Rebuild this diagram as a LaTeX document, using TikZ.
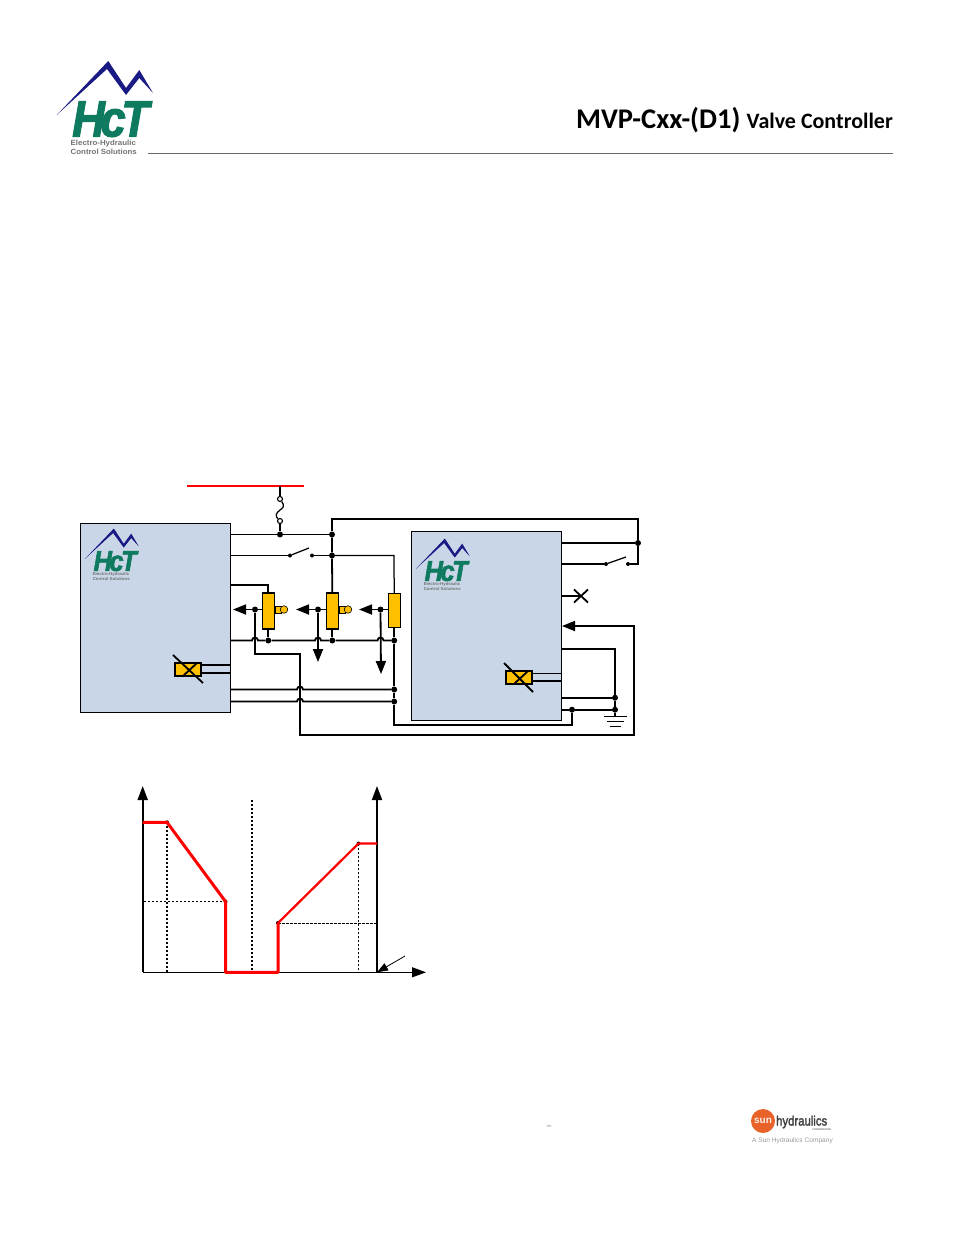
\documentclass[tikz,border=0pt]{standalone}
\usepackage{fontspec}
\setmainfont{Carlito}
\newfontfamily\logofont{Liberation Sans}
\newfontfamily\logoheavy[FakeBold=2.2]{Liberation Sans}
\usetikzlibrary{arrows.meta}
\definecolor{boxblue}{HTML}{C8D6E7}
\definecolor{valveyellow}{HTML}{FFC000}
\definecolor{hctgreen}{HTML}{0E7A5F}
\definecolor{hctblue}{HTML}{1A1A85}
\definecolor{sunorange}{HTML}{E8622A}
\tikzset{
  wire/.style={line width=1.8pt,black},
  thinwire/.style={line width=1.25pt,black},
  ctrl/.style={draw=black,line width=1pt,fill=boxblue,minimum width=150pt,minimum height=189pt,inner sep=0pt,anchor=north west},
  valve/.style={draw=black,line width=1.1pt,fill=valveyellow,minimum width=12pt,minimum height=36pt,inner sep=0pt},
  coil/.style={draw=black,line width=1.8pt,fill=valveyellow,minimum width=26pt,minimum height=13pt,inner sep=0pt},
  knob/.style={draw=black,line width=.6pt,fill=valveyellow,circle,minimum size=7.5pt,inner sep=0pt},
  stem/.style={draw=black,line width=.6pt,fill=valveyellow,minimum width=6pt,minimum height=7pt,inner sep=0pt},
  junction/.style={circle,fill=black,minimum size=6pt,inner sep=0pt},
  contact/.style={circle,fill=black,minimum size=4pt,inner sep=0pt},
  head/.style={-{Triangle[length=13pt,width=10pt]}},
  bighead/.style={-{Triangle[length=14pt,width=10pt]}},
  redline/.style={red,line width=3pt,line join=round},
  redthin/.style={red,line width=2.2pt,line join=round},
  dots/.style={black,line width=1.3pt,dash pattern=on 2pt off 2pt},
  finedash/.style={black,line width=.8pt,dash pattern=on 2.5pt off 1.5pt},
  hct/.pic={
    \fill[hctblue] (1.7,55) -- (53.3,1) -- (71,28) -- (84.3,10) -- (98,33) -- (84.3,18) -- (71,35) -- (52,9) -- cycle;
    \node[transform shape,xscale=.89,anchor=base west,inner sep=0pt,text=hctgreen] (-logo) at (17,76.5) {\logoheavy\fontsize{51}{51}\selectfont\bfseries\itshape H\kern-5ptc\kern-5ptT};
    \node[transform shape,xscale=1.05,anchor=west,inner sep=0pt,align=left,text=black!55,font=\logofont\fontsize{7.5}{9}\selectfont\bfseries] (-l1) at (15.5,87.3) {Electro-Hydraulic\\Control Solutions};
  }
}
\begin{document}
\begin{tikzpicture}[x=1pt,y=-1pt]
\useasboundingbox (0,0) rectangle (954,1235);
% header
\pic (mainlogo) at (55,60) {hct};
\node[anchor=base east,inner sep=0pt] (title) at (893,128) {\bfseries{\fontsize{28.5}{28}\selectfont MVP-Cxx-(D1)}\kern4pt{} {\fontsize{22}{22}\selectfont Valve Controller}};
\coordinate (hl) at (148,153.5); \coordinate (hr) at (893,153.5);
\draw[black!60,line width=.7pt] (hl) -- (hr);

% controllers
\node[ctrl] (boxL) at (80.3,523.3) {};
\node[ctrl] (boxR) at (411.3,531.3) {};
\pic[scale=.56] (logoL) at (84,528) {hct};
\pic[scale=.56] (logoR) at (415,538) {hct};

% supply bar and fuse
\coordinate (barL) at (187,486); \coordinate (barR) at (304,486); \coordinate (barT) at (280,486);
\draw[red,line width=2.6pt] (barL) -- (barR);
\node[junction] (jF) at (280,534.5) {};
\node[junction] (jA) at (332,534.5) {};
\node[junction] (jB) at (332,555.5) {};
\node[draw=black,circle,line width=1.1pt,minimum size=5pt,inner sep=0pt,fill=white] (f1) at (280,499) {};
\node[draw=black,circle,line width=1.1pt,minimum size=5pt,inner sep=0pt,fill=white] (f2) at (280,521) {};
\draw[thinwire] (barT) -- (f1);
\draw[thinwire] (f1) .. controls (285,506) and (283,508) .. (280,510) .. controls (276,513) and (275,516) .. (f2);
\draw[wire] (f2) -- (jF);
\draw[thinwire] (jF -| boxL.east) -- (jF) -- (jA);

% valves
\node[valve] (v1) at (268.3,611) {};
\node[valve] (v2) at (332.3,611) {};
\node[valve,minimum height=34pt] (v3) at (394.2,610.3) {};
\node[stem] (s1) at (278,609.5) {};
\node[stem] (s2) at (342,609.5) {};
\node[knob] (k1) at (284,609.5) {};
\node[knob] (k2) at (348,609.5) {};

% left switch
\coordinate (swLa) at (230.3,555.5);
\node[contact] (c1) at (290,555.5) {};
\node[contact] (c2) at (312,555.5) {};
\coordinate (c1t) at (309,548);
\draw[wire] (swLa) -- (c1);
\draw[thinwire] (c1) -- (c1t);
\draw[wire] (c2) -- (jB);
\draw[thinwire] (jB) -- (394,555.5) -- (v3.north);
\draw[wire] (jA) -- (jB) -- (v2.north);

% top feed to right controller
\node[junction] (jTR) at (638,543) {};
\draw[wire] (jA) -- (332,519) -- (638,519) -- (jTR);
\draw[wire] (jTR) -- (jTR -| boxR.east);
\node[contact] (c3) at (606,564) {};
\node[contact] (c4) at (628,564) {};
\coordinate (c3t) at (626,557);
\draw[wire] (c3 -| boxR.east) -- (c3);
\draw[thinwire] (c3) -- (c3t);
\draw[wire] (c4) -- (638,564) -- (jTR);

% valve 1 supply, common return
\draw[wire] (230.3,585) -- (268.3,585) -- (v1.north);
\node[junction] (jV1) at (268.3,640.5) {};
\node[junction] (jV2) at (332.3,640.5) {};
\node[junction] (jV3) at (394.2,640.5) {};
\draw[wire] (v1.south) -- (jV1);
\draw[wire] (v2.south) -- (jV2);
\draw[wire] (230.3,640.5) -- (252,640.5) arc[start angle=180,end angle=360,radius=3] -- (jV1) -- (315,640.5) arc[start angle=180,end angle=360,radius=3] -- (jV2) -- (377.5,640.5) arc[start angle=180,end angle=360,radius=3] -- (jV3);

% wiper arrows
\node[junction] (w1) at (255,609.5) {};
\node[junction] (w2) at (318,609.5) {};
\node[junction] (w3) at (380.5,609.5) {};
\coordinate (t1) at (233,609.5);
\coordinate (t2) at (296,609.5);
\coordinate (t3) at (359,609.5);
\coordinate (d2) at (318,662);
\coordinate (d3) at (381,674);
\draw[wire,head] (v1.west |- w1) -- (t1);
\draw[wire,head] (v2.west |- w2) -- (t2);
\draw[wire,head] (v3.west |- w3) -- (t3);
\draw[wire,head] (w2) -- (d2);
\draw[wire,head] (w3) -- (d3);

% signal wires
\node[junction] (jS1) at (394.2,689.5) {};
\node[junction] (jS2) at (394.2,701.5) {};
\draw[wire] (230.3,689.5) -- (297,689.5) arc[start angle=180,end angle=360,radius=3] -- (jS1);
\draw[wire] (230.3,701.5) -- (297,701.5) arc[start angle=180,end angle=360,radius=3] -- (jS2);

% long feedback to right controller
\coordinate (fbT) at (562,626);
\draw[wire,head] (w1) -- (255,654) -- (300,654) -- (300,735) -- (634,735) -- (634,626) -- (fbT);

% return bus
\node[junction] (jG3) at (572,709.7) {};
\draw[wire] (v3.south) -- (jV3) -- (jS1) -- (jS2) -- (394.2,725) -- (572,725) -- (jG3);

% right controller ground
\node[junction] (jG1) at (615,697.7) {};
\node[junction] (jG2) at (615,709.7) {};
\coordinate (gnd) at (615,716.5);
\draw[wire] (561.3,649) -- (615,649) -- (jG1) -- (jG2) -- (gnd);
\draw[wire] (561.3,697.7) -- (jG1);
\draw[wire] (561.3,709.7) -- (jG3) -- (jG2);
\draw[wire] (604,716.5) -- (627,716.5);
\draw[thinwire] (607,721.5) -- (624,721.5);
\draw[thinwire] (610,726.5) -- (621,726.5);

% open output
\coordinate (xc) at (581,596);
\draw[wire] (561.3,596) -- (xc);
\draw[wire] (574,589.5) -- (588,602.5);
\draw[wire] (588,589.5) -- (574,602.5);

% coils
\node[coil] (coilL) at (188,669.3) {};
\draw[wire] (coilL.east |- 0,665) -- (230.3,665);
\draw[wire] (coilL.east |- 0,672.7) -- (230.3,672.7);
\draw[wire] (173,655) -- (203,683);
\draw[wire] (197,663) -- (183,676);
\node[coil] (coilR) at (519,677.3) {};
\draw[wire] (coilR.east |- 0,673.5) -- (561,673.5);
\draw[wire] (coilR.east |- 0,681.2) -- (561,681.2);
\draw[wire] (504,663) -- (533,692);
\draw[wire] (528,671) -- (514,684);

% graph
\coordinate (O1) at (142.7,972.3);
\coordinate (O2) at (377,972.3);
\coordinate (Yl) at (142.7,786);
\coordinate (Yr) at (377,786);
\coordinate (Xe) at (426,972.3);
\coordinate (P1) at (167,822.3);
\coordinate (P2) at (225.5,901.5);
\coordinate (P3) at (225.5,972.3);
\coordinate (P4) at (278,972.3);
\coordinate (P5) at (278,923);
\coordinate (P6) at (358.5,843.5);
\draw[wire,bighead] (O1) -- (Yl);
\draw[wire,bighead] (O2) -- (Yr);
\draw[thinwire,bighead] (O1) -- (Xe);
\draw[dots] (P1) -- (P1 |- O1);
\draw[dots] (P2) -- (P2 -| O1);
\draw[dots] (252,800) -- (252,972);
\draw[finedash] (P5) -- (P5 -| O2);
\draw[finedash] (P6) -- (P6 |- O1);
\node[contact] (m1) at (P1) {};
\node[contact] (m2) at (P2) {};
\node[contact] (m3) at (P5) {};
\node[contact] (m4) at (P6) {};
\draw[redline] (O1 |- P1) -- (P1) -- (P2) -- (P3) -- (P4) -- (P5);
\draw[redthin] (P5) -- (P6) -- (P6 -| O2);
\coordinate (ptr) at (405,956);
\draw[line width=.8pt,-{Triangle[length=11pt,width=8pt]}] (ptr) -- (O2);

% footer
\node[anchor=base,inner sep=0pt,font=\fontsize{9}{9}\selectfont,text=black!70] (foot) at (549,1125) {\_};
\node[circle,fill=sunorange,minimum size=24pt,inner sep=0pt,text=white!90!sunorange,font=\logofont\fontsize{10}{10}\selectfont\bfseries] (sun) at (763,1121) {sun};
\node[anchor=base west,inner sep=0pt,font=\logoheavy\fontsize{13.5}{13.5}\selectfont,text=black!75,xscale=.84] (hyd) at (776,1125.5) {hydraulics};
\node[anchor=base east,inner sep=0pt,font=\logofont\fontsize{2.5}{3}\selectfont\bfseries,text=black!60] (corp) at (831,1130) {CORPORATION};
\node[anchor=base,inner sep=0pt,font=\logofont\fontsize{6.6}{7}\selectfont,text=black!40] (comp) at (792.5,1142) {A Sun Hydraulics Company};
\end{tikzpicture}
\end{document}
